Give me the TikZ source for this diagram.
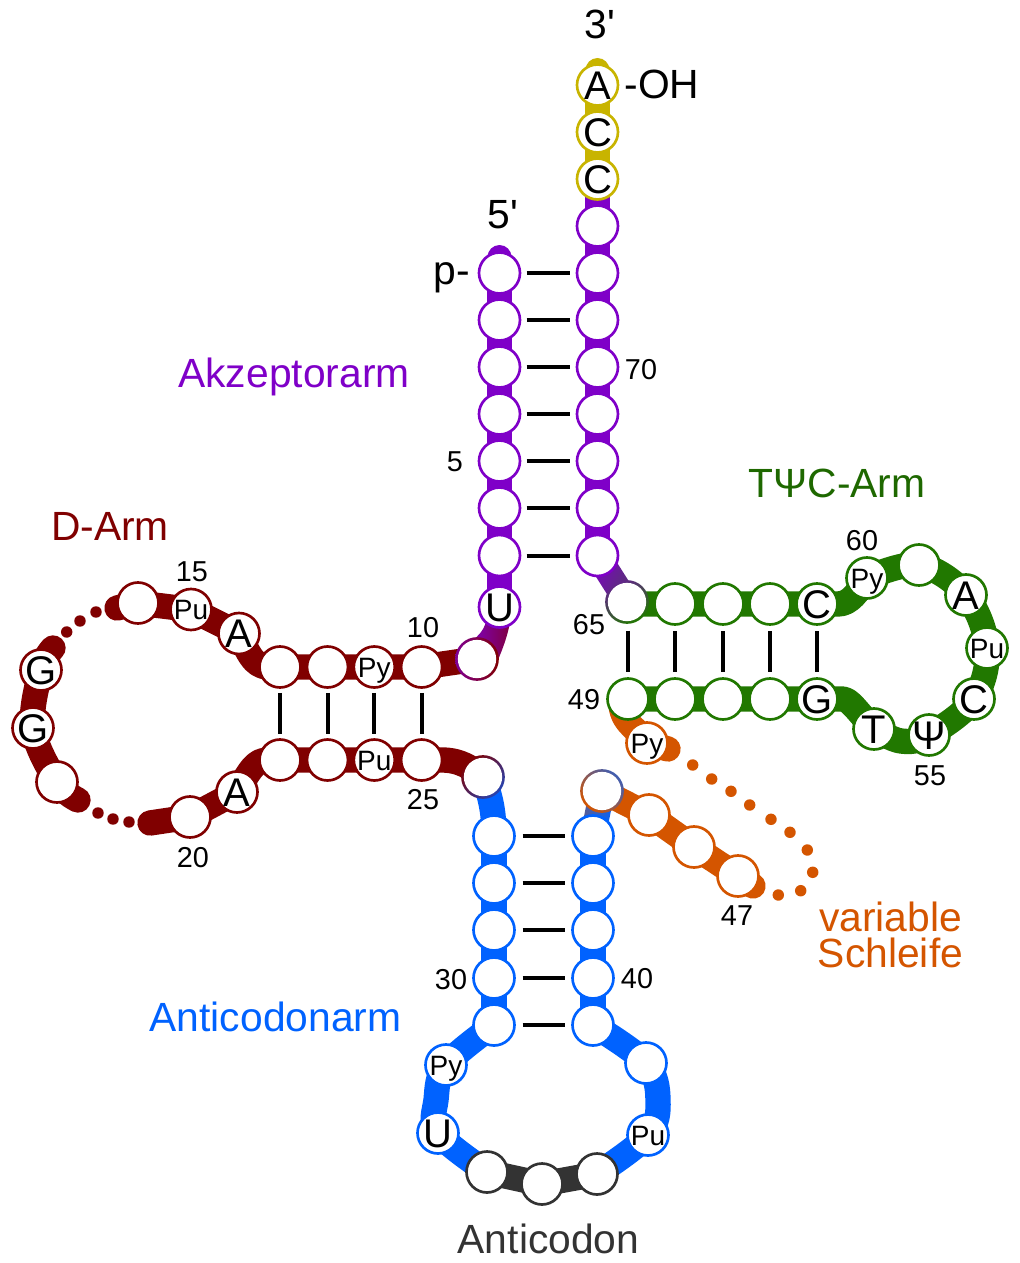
\documentclass[tikz,border=0pt]{standalone}
\usepackage{fontspec}
\setmainfont{Liberation Sans}[Ligatures=TeXOff]
\usetikzlibrary{calc}
\definecolor{cpur}{HTML}{7F00C8}
\definecolor{cred}{HTML}{800000}
\definecolor{cblu}{HTML}{0062FF}
\definecolor{cgrn}{HTML}{217800}
\definecolor{cgrt}{HTML}{1E6800}
\definecolor{cora}{HTML}{D45500}
\definecolor{cyel}{HTML}{C8B400}
\definecolor{cdrk}{HTML}{333333}
\pgfdeclarelayer{bgl}
\pgfsetlayers{bgl,main}
\newcommand{\Lb}[1]{\hbox to 0pt{\hss #1\hss}}
\newcommand{\junction}[6]{%
  \node[circle,inner sep=0pt,outer sep=0pt,minimum size=32.8pt,left color=#4,right color=#5,shading angle=#6] (#1) at (#2,#3) {};
  \fill[white] (#1.center) circle (14.36pt);}
\newcommand{\myband}[5]{%
  \shade[left color=#3,right color=#4,shading angle=#5]
   ($(#1.center)!9.5pt!90:(#2.center)$) -- ($(#1.center)!9.5pt!-90:(#2.center)$) --
   ($(#2.center)!9.5pt!90:(#1.center)$) -- ($(#2.center)!9.5pt!-90:(#1.center)$) -- cycle;}
\tikzset{
  nt/.style={circle,draw=#1,fill=white,line width=2pt,minimum size=30.75pt,inner sep=0pt,outer sep=0pt,text=black,text height=21.5pt,text depth=0pt,font=\fontsize{30}{36}\selectfont},
  ntsm/.style={nt=#1,text height=15pt,font=\fontsize{21}{25}\selectfont},
  bb/.style={draw=#1,line width=19pt,line join=round,line cap=butt},
  bbr/.style={bb=#1,line cap=round},
  pairline/.style={line width=3pt,black},
  num/.style={inner sep=0pt,text height=15.4pt,text depth=0pt,font=\fontsize{21.6}{25}\selectfont,text=black},
  lab/.style={inner sep=0pt,text height=21.9pt,text depth=0pt,font=\fontsize{30.6}{36}\selectfont,text=#1},
  labtwo/.style={inner sep=0pt,align=center,font=\fontsize{30.6}{27}\selectfont,text=#1},
}
\begin{document}
\begin{tikzpicture}[x=0.75pt,y=-0.75pt]
\useasboundingbox (0,0) rectangle (1020,1263);
% ---------- acceptor, 3' side
\node[nt=cyel] (a76) at (597.5,85) {\Lb{A}};
\node[nt=cyel] (a75) at (597.5,132) {\Lb{C}};
\node[nt=cyel] (a74) at (597.5,179) {\Lb{C}};
\node[nt=cpur] (a73) at (597.5,226) {};
\node[nt=cpur] (a72) at (597.5,273) {};
\node[nt=cpur] (a71) at (597.5,320) {};
\node[nt=cpur] (a70) at (597.5,367) {};
\node[nt=cpur] (a69) at (597.5,414) {};
\node[nt=cpur] (a68) at (597.5,461) {};
\node[nt=cpur] (a67) at (597.5,508) {};
\node[nt=cpur] (a66) at (597.5,555.5) {};
% ---------- acceptor, 5' side
\node[nt=cpur] (a1) at (499.5,273) {};
\node[nt=cpur] (a2) at (499.5,320) {};
\node[nt=cpur] (a3) at (499.5,367) {};
\node[nt=cpur] (a4) at (499.5,414) {};
\node[nt=cpur] (a5) at (499.5,461) {};
\node[nt=cpur] (a6) at (499.5,508) {};
\node[nt=cpur] (a7) at (499.5,555.5) {};
\node[nt=cpur] (a8) at (499.5,607) {\Lb{U}};
% ---------- D arm
\junction{d9}{477}{659}{cpur!75!cred}{cred}{90}
\node[nt=cred] (d10) at (421.6,667) {};
\node[ntsm=cred] (d11) at (374.3,667) {\Lb{Py}};
\node[nt=cred] (d12) at (327.5,667) {};
\node[nt=cred] (d13) at (280,667) {};
\node[nt=cred] (d14) at (239,633.5) {\Lb{A}};
\node[ntsm=cred] (d15) at (191,609.5) {\Lb{Pu}};
\node[nt=cred] (d16) at (138,603) {};
\node[nt=cred] (g18) at (41,670) {\Lb{G}};
\node[nt=cred] (g19) at (33,728) {\Lb{G}};
\node[nt=cred] (d20a) at (57,782) {};
\node[nt=cred] (d20) at (190,817) {};
\node[nt=cred] (d21) at (237,792) {\Lb{A}};
\node[nt=cred] (d22) at (280,760) {};
\node[nt=cred] (d23) at (327.5,760) {};
\node[ntsm=cred] (d24) at (374.3,760) {\Lb{Pu}};
\node[nt=cred] (d25) at (421.6,760) {};
\junction{d26}{483}{777}{cred}{cblu!70!cred}{45}
% ---------- anticodon arm
\node[nt=cblu] (b27) at (494,836) {};
\node[nt=cblu] (b28) at (494,883) {};
\node[nt=cblu] (b29) at (494,930) {};
\node[nt=cblu] (b30) at (494,978) {};
\node[nt=cblu] (b31) at (494,1025) {};
\node[ntsm=cblu] (b32) at (446,1065) {\Lb{Py}};
\node[nt=cblu] (b33) at (438,1133) {\Lb{U}};
\node[nt=cdrk] (ac1) at (487,1172) {};
\node[nt=cdrk] (ac2) at (542,1184) {};
\node[nt=cdrk] (ac3) at (597,1174) {};
\node[ntsm=cblu] (b37) at (648,1135) {\Lb{Pu}};
\node[nt=cblu] (b38) at (646,1063) {};
\node[nt=cblu] (b39) at (593,1025) {};
\node[nt=cblu] (b40) at (593,978) {};
\node[nt=cblu] (b41) at (593,930) {};
\node[nt=cblu] (b42) at (593,883) {};
\node[nt=cblu] (b43) at (593,836) {};
% ---------- variable loop
\junction{v44}{602}{791}{cblu!70!cora}{cora}{-45}
\node[nt=cora] (v45) at (649,815) {};
\node[nt=cora] (v46) at (694,847) {};
\node[nt=cora] (v47) at (738,876) {};
\node[ntsm=cora] (v48) at (647,743) {\Lb{Py}};
% ---------- T arm
\node[nt=cgrn] (t49) at (628,699) {};
\node[nt=cgrn] (t50) at (675,699) {};
\node[nt=cgrn] (t51) at (723,699) {};
\node[nt=cgrn] (t52) at (770,699) {};
\node[nt=cgrn] (t53) at (817,699) {\Lb{G}};
\node[nt=cgrn] (t54) at (874,729) {\Lb{T}};
\node[nt=cgrn] (t55) at (929,735) {\Lb{Ψ}};
\node[nt=cgrn] (t56) at (974,699) {\Lb{C}};
\node[ntsm=cgrn] (t57) at (987,648) {\Lb{Pu}};
\node[nt=cgrn] (t58) at (966,595) {\Lb{A}};
\node[nt=cgrn] (t59) at (919,565) {};
\node[ntsm=cgrn] (t60) at (867,578) {\Lb{Py}};
\node[nt=cgrn] (t61) at (817,604) {\Lb{C}};
\node[nt=cgrn] (t62) at (770,604) {};
\node[nt=cgrn] (t63) at (723,604) {};
\node[nt=cgrn] (t64) at (675,604) {};
\junction{t65}{627}{602}{cpur!70!cgrn}{cgrn}{30}
% ---------- helper points on the backbone
\coordinate (capY) at (597.5,70);
\coordinate (capP) at (499.5,257);
\coordinate (capD1) at (117,608);
\coordinate (capD2) at (53,648);
\coordinate (capD3) at (78,800);
\coordinate (capD4) at (150,823);
\coordinate (capV1) at (668,749);
\coordinate (capV2) at (753,886);
\coordinate (wpB1) at (436,1100);
\coordinate (wpB2) at (658,1100);
\coordinate (wpT1) at (901,741);
\begin{pgfonlayer}{bgl}
  % acceptor
  \draw[bb=cpur] (a74.center) -- (a66.center);
  \draw[bb=cyel] (a76.center) -- (a74.center);
  \fill[cyel] (capY) circle (9pt);
  \draw[bb=cpur] (a1.center) -- (a8.center);
  \fill[cpur] (capP) circle (9pt);
  \draw[bb=cpur] (capP) -- (a1.center);
  \draw[bb=cyel] (capY) -- (a76.center);
  % junctions
  \shade[left color=cpur,right color=cpur!30!cred,shading angle=90]
    ($(a8.center)+(-12,0)$) .. controls ($(a8.center)+(-12,20)$) and ($(a8.center)+(-17,26)$) .. ($(d9.center)+(-10,-14)$)
    -- ($(d9.center)+(18,8)$) .. controls ($(d9.center)+(24,-6)$) and ($(a8.center)+(12,22)$) .. ($(a8.center)+(12,0)$) -- cycle;
  \myband{a66}{t65}{cpur}{cpur!50!cgrn}{60}
  \draw[bb=cblu] (d26.center) .. controls (490,795) and (494,810) .. (b27.center);
  \myband{v44}{b43}{cblu!55!cora}{cblu}{90}
  % D arm
  \draw[bb=cred] (d9.center) -- (d10.center) -- (d13.center);
  \draw[bb=cred] (d13.center) -- (268,667) .. controls (253,667) and (247,650) .. (d14.center) -- (d15.center) -- (d16.center);
  \draw[bbr=cred] (d16.center) -- (capD1);
  \draw[bbr=cred] plot[smooth,tension=.6] coordinates {(capD2) (g18.center) (g19.center) (d20a.center) (capD3)};
  \draw[bbr=cred] (capD4) -- (d20.center);
  \draw[bb=cred] (d20.center) -- (d21.center) .. controls (250,770) and (255,760) .. (268,760) -- (d22.center) -- (d25.center) -- (442,760) .. controls (460,760) and (472,768) .. (d26.center);
  % red dots
  \foreach \px/\py in {96/612,80/621,66.7/632,98/813,113/819,129/822}
    \fill[cred] (\px,\py) circle (4.3pt);
  % anticodon arm
  \draw[bb=cblu] (b27.center) -- (b31.center);
  \draw[bb=cblu] (b43.center) -- (b39.center);
  \draw[bb=cblu] plot[smooth,tension=.6] coordinates {(b31.center) (b32.center) (wpB1) (b33.center) (ac1.center)};
  \draw[bb=cblu] plot[smooth,tension=.6] coordinates {(b39.center) (b38.center) (wpB2) (b37.center) (ac3.center)};
  \draw[bb=cdrk] (ac1.center) -- (ac2.center) -- (ac3.center);
  % variable loop
  \draw[bbr=cora] (v44.center) -- (v45.center) -- (v46.center) -- (v47.center) -- (capV2);
  \draw[bbr=cora] ($(t49.center)+(-7,6)$) .. controls ($(t49.center)+(-5,26)$) and (640,730) .. (v48.center) -- (capV1);
  \foreach \px/\py in {692.7/765,711.7/779,731/791.3,749.7/805,771/819.3,790/832.3,807.3/850,812.7/872.3,800.7/890.7,778.3/895}
    \fill[cora] (\px,\py) circle (4.3pt);
  % T arm
  \draw[bb=cgrn] (t49.center) -- (t53.center) -- (842,699) .. controls (850,699) and (856,710) .. (t54.center);
  \draw[bb=cgrn] (t65.center) -- ($(t64.center)+(-30,0)$) -- (t61.center) -- (838,604) .. controls (850,604) and (858,592) .. (t60.center);
  \draw[bb=cgrn] plot[smooth,tension=.6] coordinates {(t54.center) (wpT1) (t55.center) (t56.center) (t57.center) (t58.center) (t59.center) (t60.center)};
\end{pgfonlayer}
% ---------- base pairs
\foreach \p/\q in {a1/a72,a2/a71,a3/a70,a4/a69,a5/a68,a6/a67,a7/a66}
  \draw[pairline,shorten >=5pt,shorten <=5pt] (\p) -- (\q);
\foreach \p/\q in {b27/b43,b28/b42,b29/b41,b30/b40,b31/b39}
  \draw[pairline,shorten >=6pt,shorten <=6pt] (\p) -- (\q);
\foreach \p/\q in {d13/d22,d12/d23,d11/d24,d10/d25}
  \draw[pairline,shorten >=4pt,shorten <=4pt] (\p) -- (\q);
\foreach \p/\q in {t64/t50,t63/t51,t62/t52,t61/t53}
  \draw[pairline,shorten >=5pt,shorten <=5pt] (\p) -- (\q);
\draw[pairline,shorten >=5pt,shorten <=5pt] (t49 |- t65.south) -- (t49);
% ---------- labels
\node[lab=black] (l3) at (600,24) {3'};
\node[lab=black] (l5) at (503,214) {5'};
\node[lab=black] (lp) at (452,270) {p-};
\node[lab=black] (loh) at (662,84) {-OH};
\node[lab=cpur] (lak) at (294,373) {Akzeptorarm};
\node[lab=cgrt] (ltp) at (837,483) {TΨC-Arm};
\node[lab=cred] (ldr) at (110,526) {D-Arm};
\node[lab=cblu] (lan) at (275.5,1017) {Anticodonarm};
\node[labtwo=cora] (lv1) at (890.5,935) {variable\\Schleife};
\node[lab=cdrk] (lac) at (548.5,1239) {Anticodon};
\node[num] (n70) at (641,369) {70};
\node[num] (n5) at (455,461) {5};
\node[num] (n15) at (192,571) {15};
\node[num] (n10) at (423,627) {10};
\node[num] (n25) at (423,799) {25};
\node[num] (n20) at (193,857) {20};
\node[num] (n65) at (589,624) {65};
\node[num] (n49) at (584,699) {49};
\node[num] (n60) at (862,540) {60};
\node[num] (n55) at (930,775) {55};
\node[num] (n47) at (737,915) {47};
\node[num] (n30) at (451,979) {30};
\node[num] (n40) at (637,978) {40};
\end{tikzpicture}
\end{document}
